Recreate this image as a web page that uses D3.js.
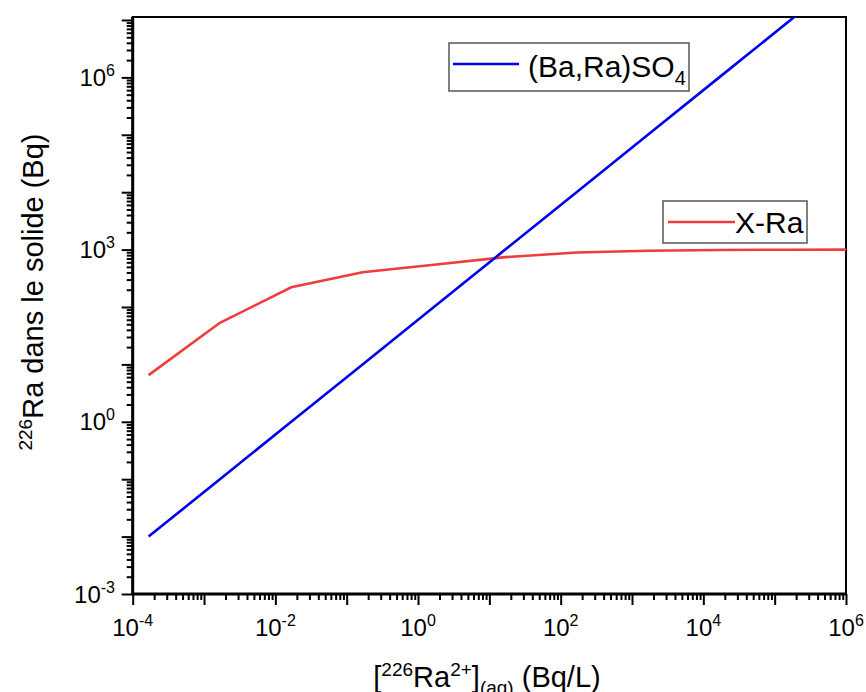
<!DOCTYPE html>
<html>
<head>
<meta charset="utf-8">
<title>226Ra dans le solide</title>
<script src="https://d3js.org/d3.v7.min.js"></script>
<style>
  body { margin: 0; background: #fff; }
  text { font-family: "Liberation Sans", Arial, sans-serif; fill: #000; }
</style>
</head>
<body>
<script>
var width = 866, height = 692;
var plotL = 132.7, plotR = 846, plotT = 17, plotB = 594;

// données
var concAq = [1.67e-4, 1.67e-3, 1.67e-2, 0.167, 1.67, 16.7, 167, 1670, 16700, 1.67e5, 1.67e6];
var solideBaRa = [0.01, 0.1, 1, 10, 100, 1000, 1e4, 1e5, 1e6, 1e7, 1e8];
var solideXRa = [6.5, 53, 220, 403, 543, 738, 891, 957, 985, 996, 999];
var xTickExp = [-4, -2, 0, 2, 4, 6];
var yTickExp = [-3, 0, 3, 6];

var svg = d3.select("body").append("svg").attr("width", width).attr("height", height);

var x = d3.scaleLog().domain([1e-4, 1e6]).range([plotL, plotR]);
var y = d3.scaleLog().domain([1e-3, 1.127e7]).range([plotB, plotT]);

// graduations : décades et sous-graduations 2..9
function decades(e0, e1) { return d3.range(e0, e1 + 1).map(function(e) { return Math.pow(10, e); }); }
function minors(e0, e1, max) {
  var out = [];
  d3.range(e0, e1 + 1).forEach(function(e) {
    for (var k = 2; k <= 9; k++) { var v = k * Math.pow(10, e); if (v <= max) out.push(v); }
  });
  return out;
}
var xMajor = decades(-4, 6);
var xMinor = minors(-4, 5, 1e6);
var yMajor = decades(-3, 7);
var yMinor = minors(-3, 7, y.domain()[1]);

var gx = svg.append("g").attr("transform", "translate(0," + plotB + ")");
gx.call(d3.axisBottom(x).tickValues(xMajor).tickSize(11).tickSizeOuter(0).tickFormat(""));
gx.append("g").call(d3.axisBottom(x).tickValues(xMinor).tickSize(6).tickSizeOuter(0).tickFormat(""));
var gy = svg.append("g").attr("transform", "translate(" + plotL + ",0)");
gy.call(d3.axisLeft(y).tickValues(yMajor).tickSize(11).tickSizeOuter(0).tickFormat(""));
gy.append("g").call(d3.axisLeft(y).tickValues(yMinor).tickSize(6).tickSizeOuter(0).tickFormat(""));
svg.selectAll(".domain").remove();
svg.selectAll(".tick line").attr("stroke", "#000").attr("stroke-width", 2);

// cadre
svg.append("rect").attr("x", plotL).attr("y", plotT)
  .attr("width", plotR - plotL).attr("height", plotB - plotT)
  .attr("fill", "none").attr("stroke", "#000").attr("stroke-width", 2);
svg.append("line").attr("x1", plotL).attr("x2", plotL).attr("y1", plotT).attr("y2", plotB + 1)
  .attr("stroke", "#000").attr("stroke-width", 3);
svg.append("line").attr("x1", plotL - 1).attr("x2", plotR).attr("y1", plotB).attr("y2", plotB)
  .attr("stroke", "#000").attr("stroke-width", 3);

// étiquettes
xTickExp.forEach(function(e) {
  var t = svg.append("text").attr("x", x(Math.pow(10, e))).attr("y", 636)
    .attr("text-anchor", "middle").attr("font-size", 24).text("10");
  t.append("tspan").attr("dy", -10).attr("font-size", 16).text(e);
});
yTickExp.forEach(function(e) {
  var t = svg.append("text").attr("x", 115).attr("y", y(Math.pow(10, e)) + 8.6)
    .attr("text-anchor", "end").attr("font-size", 24).text("10");
  t.append("tspan").attr("dy", -10).attr("font-size", 16).text(e);
});

// titres
var tx = svg.append("text").attr("x", 487).attr("y", 687).attr("text-anchor", "middle").attr("font-size", 29);
tx.append("tspan").text("[");
tx.append("tspan").attr("dy", -11).attr("font-size", 19).text("226");
tx.append("tspan").attr("dy", 11).text("Ra");
tx.append("tspan").attr("dy", -11).attr("font-size", 19).text("2+");
tx.append("tspan").attr("dy", 11).text("]");
tx.append("tspan").attr("dy", 7).attr("font-size", 19).text("(aq)");
tx.append("tspan").attr("dy", -7).text(" (Bq/L)");

var ty = svg.append("text").attr("transform", "translate(43,292) rotate(-90)")
  .attr("text-anchor", "middle").attr("font-size", 29);
ty.append("tspan").attr("dy", -11).attr("font-size", 19).text("226");
ty.append("tspan").attr("dy", 11).text("Ra dans le solide (Bq)");

// courbes
svg.append("clipPath").attr("id", "zone").append("rect")
  .attr("x", plotL).attr("y", plotT).attr("width", plotR - plotL).attr("height", plotB - plotT);

var line = d3.line().x(function(d) { return x(d[0]); }).y(function(d) { return y(d[1]); });
svg.append("path").datum(d3.zip(concAq, solideXRa))
  .attr("clip-path", "url(#zone)").attr("d", line)
  .attr("fill", "none").attr("stroke", "#f03c3c").attr("stroke-width", 2.6);
svg.append("path").datum(d3.zip(concAq, solideBaRa))
  .attr("clip-path", "url(#zone)").attr("d", line)
  .attr("fill", "none").attr("stroke", "#0000f0").attr("stroke-width", 2.6);

// légendes
svg.append("rect").attr("x", 449).attr("y", 43).attr("width", 240).attr("height", 48)
  .attr("fill", "#fff").attr("stroke", "#555").attr("stroke-width", 1.5);
svg.append("line").attr("x1", 453).attr("x2", 519).attr("y1", 64).attr("y2", 64)
  .attr("stroke", "#0000f0").attr("stroke-width", 2.6);
var l1 = svg.append("text").attr("x", 528).attr("y", 77).attr("font-size", 30).text("(Ba,Ra)SO");
l1.append("tspan").attr("dy", 8).attr("font-size", 20).text("4");

svg.append("rect").attr("x", 663).attr("y", 201).attr("width", 144).attr("height", 42)
  .attr("fill", "#fff").attr("stroke", "#555").attr("stroke-width", 1.5);
svg.append("line").attr("x1", 668).attr("x2", 735).attr("y1", 222).attr("y2", 222)
  .attr("stroke", "#f03c3c").attr("stroke-width", 2.6);
svg.append("text").attr("x", 735).attr("y", 233).attr("font-size", 30).text("X-Ra");
</script>
</body>
</html>
